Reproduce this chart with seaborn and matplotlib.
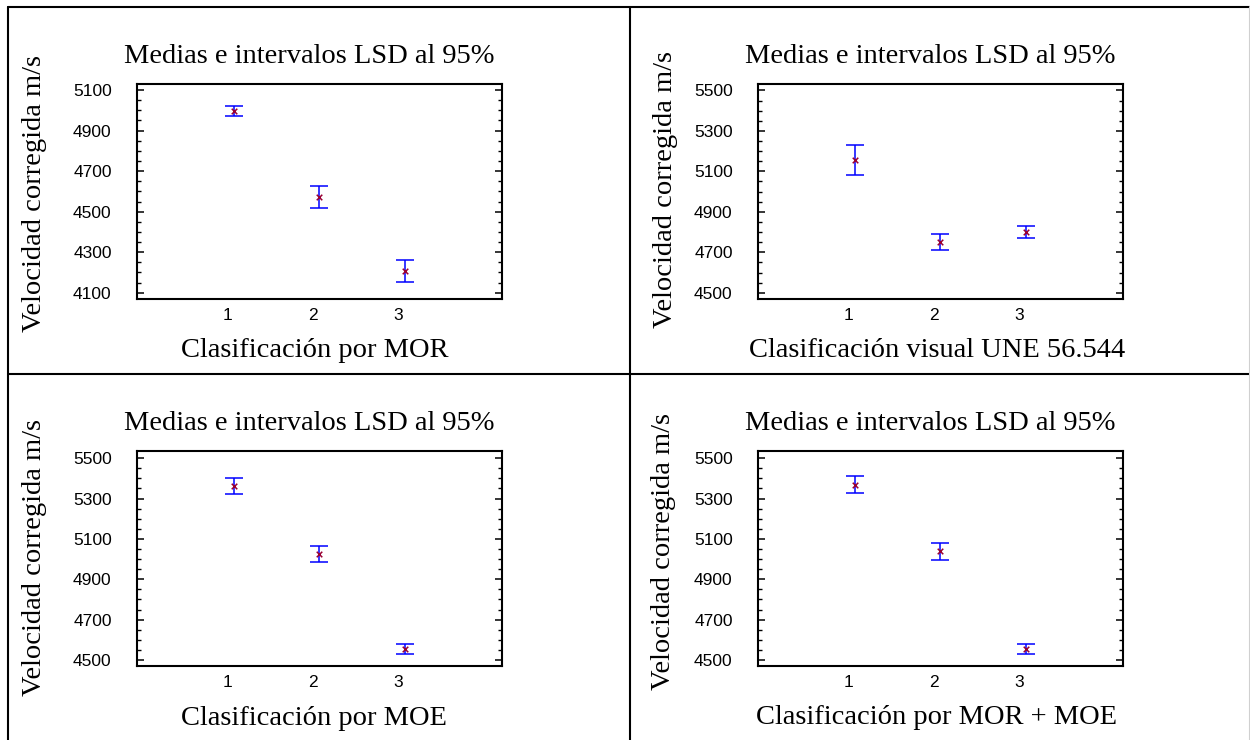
import numpy as np
import pandas as pd
import matplotlib
matplotlib.use("Agg")
import matplotlib.pyplot as plt
from matplotlib.lines import Line2D
from matplotlib.ticker import MultipleLocator
import seaborn as sns

# ---------------- data ----------------
categories = [1, 2, 3]
category_labels = ["1", "2", "3"]

mor_means = [4995, 4574, 4208]
mor_half = [25, 54, 54]

une_means = [5154, 4751, 4800]
une_half = [74, 41, 28]

moe_means = [5362, 5025, 4555]
moe_half = [42, 42, 25]

mormoe_means = [5368, 5039, 4556]
mormoe_half = [43, 42, 25]

title_text = "Medias e intervalos LSD al 95%"
ylabel_text = "Velocidad corregida m/s"
xlabels = ["Clasificación por MOR", "Clasificación visual UNE 56.544",
           "Clasificación por MOE", "Clasificación por MOR + MOE"]

yticks_low = [4100, 4300, 4500, 4700, 4900, 5100]
yticks_high = [4500, 4700, 4900, 5100, 5300, 5500]

# ---------------- style ----------------
sns.set_theme(style="white")
plt.rcParams["font.family"] = ["Liberation Serif", "DejaVu Serif"]

W, H = 1250, 740
fig = plt.figure(figsize=(W / 100, H / 100), dpi=100)
fig.patch.set_facecolor("white")

serif = ["Liberation Serif", "DejaVu Serif"]
sans = ["Liberation Sans", "DejaVu Sans"]

panels = [
    dict(means=mor_means, half=mor_half, yt=yticks_low, ylim=(4069, 5130),
         box=(136.7, 84.0, 365.0, 215.0), title=(309.5, 63), xl=(314.5, 357), yl=(34, 193.5),
         xlabel=xlabels[0]),
    dict(means=une_means, half=une_half, yt=yticks_high, ylim=(4469, 5532),
         box=(757.7, 84.0, 365.3, 215.0), title=(930.5, 63), xl=(937.5, 357), yl=(665.5, 190),
         xlabel=xlabels[1]),
    dict(means=moe_means, half=moe_half, yt=yticks_high, ylim=(4470, 5537),
         box=(136.7, 450.7, 365.0, 215.3), title=(309.5, 430), xl=(314.0, 725), yl=(34, 557.5),
         xlabel=xlabels[2]),
    dict(means=mormoe_means, half=mormoe_half, yt=yticks_high, ylim=(4470, 5537),
         box=(757.7, 450.7, 365.3, 215.3), title=(930.5, 430), xl=(937.0, 724), yl=(663, 552),
         xlabel=xlabels[3]),
]

for p in panels:
    left, top, w, h = p["box"]
    ax = fig.add_axes([left / W, 1 - (top + h) / H, w / W, h / H])
    ax.set_facecolor("white")

    def to_ax(px, py):
        return ((px - left) / w, (top + h - py) / h)

    df = pd.DataFrame({"x": categories, "mean": p["means"], "half": p["half"]})
    ax.errorbar(df["x"], df["mean"], yerr=df["half"], fmt="none", ecolor="#0000ff",
                elinewidth=1.1, capsize=6.5, capthick=1.1, zorder=2)
    sns.scatterplot(data=df, x="x", y="mean", ax=ax, marker="x", s=16,
                    color="#990033", linewidth=1.1, zorder=3, legend=False)

    ax.set_xlim(-0.13, 4.13)
    ax.set_ylim(*p["ylim"])
    ax.set_xticks(np.array(categories) - 0.075)
    ax.set_xticklabels(category_labels, fontfamily=sans, fontsize=12.5, color="black")
    ax.set_yticks(p["yt"])
    ax.set_yticklabels([str(v) for v in p["yt"]], fontfamily=sans, fontsize=12.5, color="black")
    ax.yaxis.set_minor_locator(MultipleLocator(50))
    ax.tick_params(axis="x", length=0, pad=6.5)
    ax.tick_params(axis="y", which="major", direction="in", length=5, width=1.1,
                   left=True, right=True, pad=18, color="black")
    ax.tick_params(axis="y", which="minor", direction="in", length=3, width=1.0,
                   left=True, right=True, color="black")
    for s in ax.spines.values():
        s.set_visible(True)
        s.set_color("black")
        s.set_linewidth(1.5)

    tx, ty = to_ax(*p["title"])
    ax.set_title(title_text, fontfamily=serif, fontsize=20.5, color="black",
                 pad=0, x=tx, y=ty, ha="center", va="baseline")
    ax.set_xlabel(p["xlabel"], fontfamily=serif, fontsize=20.5, color="black", va="baseline")
    ax.xaxis.set_label_coords(*to_ax(*p["xl"]))
    ax.set_ylabel(ylabel_text, fontfamily=serif, fontsize=20.5, color="black", va="center")
    ax.yaxis.set_label_coords(*to_ax(*p["yl"]))

# ---------------- table borders ----------------
def hline(y, x0, x1, color="black"):
    fig.add_artist(Line2D([x0 / W, x1 / W], [1 - y / H, 1 - y / H], color=color, lw=1.5))

def vline(x, y0, y1, color="black"):
    fig.add_artist(Line2D([x / W, x / W], [1 - y0 / H, 1 - y1 / H], color=color, lw=1.5))

hline(6.5, 7.5, 1250)
hline(374, 7.5, 1250)
vline(8, 6.5, 740)
vline(629.5, 6.5, 740)
vline(1249.5, 6.5, 740, color="#d0d0d0")

fig.savefig("out.png", dpi=100, facecolor="white")
